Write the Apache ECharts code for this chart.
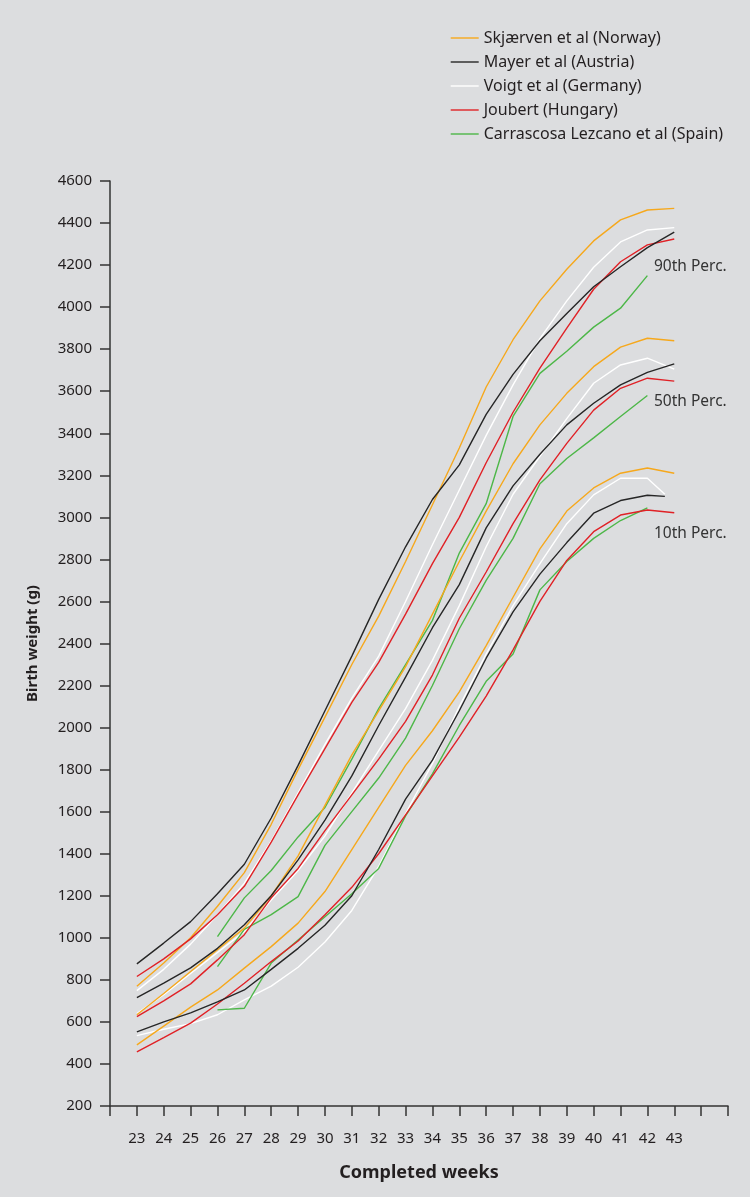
<!DOCTYPE html>
<html>
<head>
<meta charset="utf-8">
<script src="https://cdn.jsdelivr.net/npm/echarts@6/dist/echarts.min.js"></script>
<style>
  html, body { margin: 0; padding: 0; background: #dcdddf; }
  #chart { width: 750px; height: 1197px; }
</style>
</head>
<body>
<div id="chart"></div>
<script>
// completed weeks
const weeks = [23, 24, 25, 26, 27, 28, 29, 30, 31, 32, 33, 34, 35, 36, 37, 38, 39, 40, 41, 42, 43]
const weeksSpain = [26, 27, 28, 29, 30, 31, 32, 33, 34, 35, 36, 37, 38, 39, 40, 41, 42]
const weeksShort = [23, 24, 25, 26, 27, 28, 29, 30, 31, 32, 33, 34, 35, 36, 37, 38, 39, 40, 41, 42, 42.65]

// Skjærven et al (Norway)
const norway90 = [770, 880, 1000, 1150, 1310, 1540, 1800, 2050, 2300, 2530, 2790, 3060, 3330, 3620, 3845, 4030, 4180, 4315, 4415, 4462, 4470]
const norway50 = [634, 735, 840, 943, 1046, 1200, 1390, 1630, 1870, 2080, 2290, 2540, 2790, 3030, 3255, 3440, 3590, 3717, 3810, 3852, 3840]
const norway10 = [491, 580, 670, 752, 856, 958, 1070, 1220, 1420, 1620, 1820, 1985, 2170, 2390, 2620, 2850, 3030, 3140, 3210, 3235, 3210]

// Mayer et al (Austria)
const austria90 = [876, 975, 1077, 1210, 1350, 1570, 1820, 2080, 2340, 2610, 2860, 3085, 3250, 3490, 3680, 3840, 3970, 4097, 4192, 4283, 4357]
const austria50 = [716, 785, 857, 950, 1062, 1200, 1371, 1560, 1770, 2010, 2240, 2475, 2680, 2950, 3150, 3300, 3440, 3543, 3630, 3690, 3730]
const austria10 = [553, 600, 643, 695, 752, 850, 950, 1060, 1200, 1420, 1660, 1845, 2080, 2330, 2550, 2730, 2880, 3020, 3080, 3105, 3100]

// Voigt et al (Germany)
const germany90 = [749, 850, 970, 1110, 1260, 1460, 1690, 1920, 2140, 2340, 2600, 2870, 3130, 3390, 3630, 3850, 4030, 4190, 4310, 4367, 4378]
const germany50 = [640, 730, 830, 930, 1030, 1180, 1320, 1485, 1690, 1890, 2090, 2320, 2580, 2860, 3110, 3290, 3470, 3638, 3725, 3757, 3705]
const germany10 = [535, 565, 592, 634, 705, 770, 860, 980, 1130, 1340, 1590, 1830, 2100, 2350, 2580, 2780, 2970, 3107, 3186, 3186, 3110]

// Joubert (Hungary)
const hungary90 = [816, 900, 995, 1110, 1245, 1455, 1680, 1900, 2120, 2310, 2540, 2780, 3000, 3260, 3500, 3710, 3900, 4085, 4216, 4296, 4324]
const hungary50 = [625, 700, 781, 895, 1015, 1190, 1330, 1510, 1680, 1850, 2030, 2250, 2520, 2740, 2970, 3178, 3352, 3510, 3614, 3662, 3648]
const hungary10 = [457, 525, 594, 685, 784, 887, 985, 1110, 1240, 1400, 1585, 1770, 1955, 2150, 2370, 2600, 2795, 2932, 3011, 3035, 3022]

// Carrascosa Lezcano et al (Spain)
const spain90 = [1006, 1190, 1320, 1480, 1620, 1850, 2090, 2300, 2510, 2830, 3065, 3480, 3685, 3790, 3905, 3995, 4150]
const spain50 = [863, 1040, 1110, 1196, 1440, 1600, 1760, 1950, 2200, 2470, 2700, 2900, 3160, 3280, 3378, 3480, 3580]
const spain10 = [657, 665, 880, 990, 1100, 1210, 1330, 1580, 1780, 2010, 2220, 2350, 2655, 2790, 2900, 2985, 3045]

const xTicks = [23, 24, 25, 26, 27, 28, 29, 30, 31, 32, 33, 34, 35, 36, 37, 38, 39, 40, 41, 42, 43]

const colors = {
  'Skjærven et al (Norway)': '#f6a81c',
  'Mayer et al (Austria)': '#262626',
  'Voigt et al (Germany)': '#ffffff',
  'Joubert (Hungary)': '#e02126',
  'Carrascosa Lezcano et al (Spain)': '#4db748',
}

function pairs(xs, ys) {
  return xs.map((x, i) => [x, ys[i]])
}

function line(name, xs, ys) {
  return {
    name: name,
    type: 'line',
    symbol: 'none',
    smooth: false,
    silent: true,
    lineStyle: { color: colors[name], width: 1.4 },
    itemStyle: { color: colors[name] },
    data: pairs(xs, ys),
  }
}

const textColor = '#231f20'
const font = 'Noto Sans'

const myChart = echarts.init(document.getElementById('chart'))
myChart.setOption({
  backgroundColor: '#dcdddf',
  animation: false,
  legend: {
    orient: 'vertical',
    left: 445,
    top: 25,
    itemWidth: 28,
    itemHeight: 14,
    itemGap: 8,
    itemStyle: { opacity: 0 },
    lineStyle: { width: 1.4 },
    textStyle: { color: textColor, fontSize: 16, fontFamily: font, lineHeight: 16 },
    data: Object.keys(colors),
  },
  grid: { left: 110, right: 22, top: 181, bottom: 91 },
  xAxis: {
    type: 'value',
    min: 22,
    max: 45,
    interval: 1,
    name: 'Completed weeks',
    nameLocation: 'middle',
    nameGap: 58,
    nameTextStyle: { color: textColor, fontSize: 18, fontWeight: 'bold', fontFamily: font },
    axisLine: { lineStyle: { color: '#333', width: 1.5 } },
    axisTick: { length: 10, lineStyle: { color: '#333', width: 1.5 } },
    axisLabel: {
      color: textColor,
      fontSize: 15,
      fontFamily: font,
      margin: 25,
      formatter: (v) => (xTicks.indexOf(v) >= 0 ? String(v) : ''),
    },
    splitLine: { show: false },
  },
  yAxis: {
    type: 'value',
    min: 200,
    max: 4600,
    interval: 200,
    name: 'Birth weight (g)',
    nameLocation: 'middle',
    nameGap: 70,
    nameTextStyle: { color: textColor, fontSize: 15, fontWeight: 'bold', fontFamily: font },
    axisLine: { show: true, lineStyle: { color: '#333', width: 1.5 } },
    axisTick: { show: true, length: 10, lineStyle: { color: '#333', width: 1.5 } },
    axisLabel: { color: textColor, fontSize: 15, fontFamily: font, margin: 18, formatter: (v) => String(v) },
    splitLine: { show: false },
  },
  graphic: [
    { type: 'text', left: 654, top: 259, style: { text: '90th Perc.', fill: '#333', font: '15.5px "Noto Sans"' } },
    { type: 'text', left: 654, top: 394, style: { text: '50th Perc.', fill: '#333', font: '15.5px "Noto Sans"' } },
    { type: 'text', left: 654, top: 526, style: { text: '10th Perc.', fill: '#333', font: '15.5px "Noto Sans"' } },
  ],
  series: [
    line('Voigt et al (Germany)', weeks, germany90),
    line('Voigt et al (Germany)', weeks, germany50),
    line('Voigt et al (Germany)', weeksShort, germany10),
    line('Carrascosa Lezcano et al (Spain)', weeksSpain, spain90),
    line('Carrascosa Lezcano et al (Spain)', weeksSpain, spain50),
    line('Carrascosa Lezcano et al (Spain)', weeksSpain, spain10),
    line('Skjærven et al (Norway)', weeks, norway90),
    line('Skjærven et al (Norway)', weeks, norway50),
    line('Skjærven et al (Norway)', weeks, norway10),
    line('Joubert (Hungary)', weeks, hungary90),
    line('Joubert (Hungary)', weeks, hungary50),
    line('Joubert (Hungary)', weeks, hungary10),
    line('Mayer et al (Austria)', weeks, austria90),
    line('Mayer et al (Austria)', weeks, austria50),
    line('Mayer et al (Austria)', weeksShort, austria10),
  ],
})
</script>
</body>
</html>
